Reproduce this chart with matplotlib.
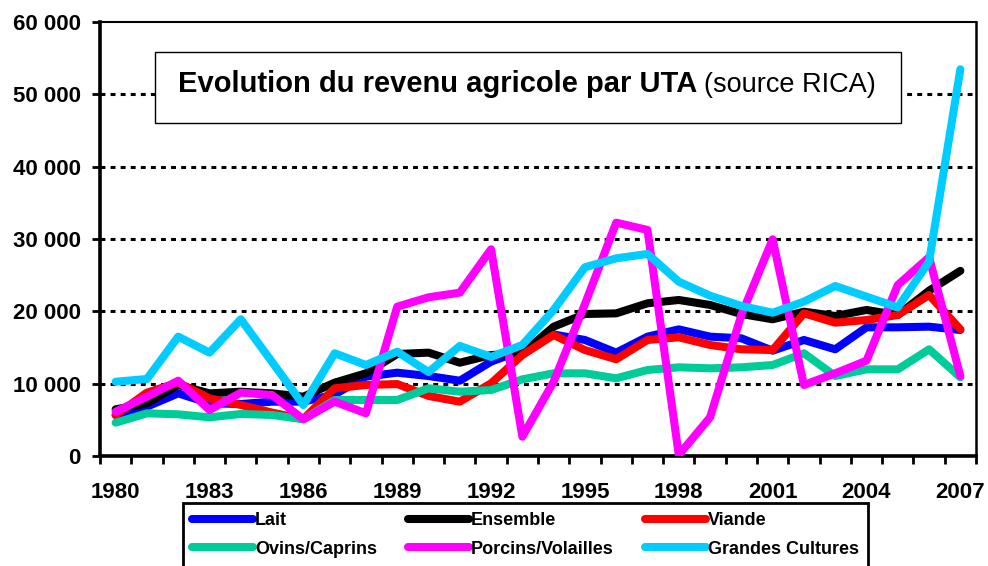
import matplotlib
matplotlib.use('Agg')
import matplotlib.pyplot as plt
from matplotlib.patches import Rectangle
import numpy as np

plt.rcParams['font.family'] = ['Liberation Sans', 'DejaVu Sans']

# donnees (revenu par UTA)
years = list(range(1980, 2008))
lait = [5670, 6820, 8660, 7280, 7190, 7510, 7510, 8500, 10970, 11520, 11060, 10410, 13040, 14650,
        16800, 16040, 14290, 16500, 17510, 16500, 16270, 14560, 16040, 14750, 17790, 17790, 17880, 17420]
ensemble = [6450, 7280, 9820, 8660, 8890, 8660, 8200, 10140, 11430, 14100, 14290, 12900, 13960, 14200,
            17880, 19630, 19720, 21110, 21570, 20880, 19630, 18900, 19950, 19360, 20190, 19490, 22860, 25600]
viande = [5670, 8760, 10140, 7970, 7050, 6000, 5100, 9360, 9820, 9950, 8300, 7510, 10050, 13960,
          16730, 14650, 13370, 16040, 16410, 15350, 14750, 14650, 19720, 18430, 18800, 19490, 22260, 17510]
ovins = [4610, 5900, 5760, 5350, 5810, 5670, 5070, 7740, 7740, 7740, 9360, 8890, 9120, 10600,
         11430, 11430, 10740, 11890, 12260, 12120, 12260, 12580, 14200, 11060, 11980, 11980, 14750, 10880]
porcins = [6130, 8200, 10410, 6360, 8760, 8430, 5070, 7510, 5900, 20640, 21940, 22580, 28580, 2670,
           10270, 21000, 32260, 31250, 140, 5350, 19500, 29960, 9820, 11430, 13180, 23640, 27470, 11060]
grandes = [10270, 10650, 16500, 14290, 18900, 13000, 7050, 14200, 12580, 14420, 11600, 15210, 13700, 15350,
           20190, 26090, 27330, 27930, 24100, 22160, 20740, 19810, 21340, 23500, 22030, 20550, 26870, 53460]

noms = ['Lait', 'Ensemble', 'Viande', 'Ovins/Caprins', 'Porcins/Volailles', 'Grandes Cultures']
series = [lait, ensemble, viande, ovins, porcins, grandes]
couleurs = ['#0000FF', '#000000', '#FF0000', '#00CC99', '#FF00FF', '#00CCFF']

W, H = 988, 566
fig = plt.figure(figsize=(W / 100, H / 100), dpi=100)
ax = fig.add_axes([100 / W, 1 - 456 / H, 876 / W, 434 / H])

x = np.arange(len(years))
lignes = {}
for nom, vals, col in zip(noms, series, couleurs):
    l, = ax.plot(x, vals, color=col, lw=5.8, solid_joinstyle='round', solid_capstyle='round',
                 label=nom, zorder=3)
    lignes[nom] = l

ax.set_xlim(-0.5, len(years) - 0.5)
ax.set_ylim(0, 60000)

yt = list(range(0, 60001, 10000))
ax.set_yticks(yt)
ax.set_yticklabels([f"{v:,}".replace(',', ' ') for v in yt], fontsize=16, fontweight='bold')
ax.set_xticks(x[::3])
ax.set_xticklabels([str(y) for y in years[::3]], fontsize=16, fontweight='bold')
ax.set_xticks(np.arange(-0.5, len(years), 1), minor=True)
ax.tick_params(axis='x', which='major', length=0, pad=19)
ax.tick_params(axis='x', which='minor', length=6, width=2, direction='out')
ax.tick_params(axis='y', length=6, width=2, pad=8, direction='out')

for v in yt[1:-1]:
    ax.axhline(v, color='black', lw=2.2, ls=(0, (1.6, 1.7)), zorder=1)

ax.spines['left'].set_linewidth(2.6)
ax.spines['bottom'].set_linewidth(2.6)
ax.spines['top'].set_linewidth(1.5)
ax.spines['right'].set_linewidth(1.8)

# cadre du titre
fig.patches.append(Rectangle((155 / W, 1 - 123 / H), 746 / W, 71 / H, transform=fig.transFigure,
                             facecolor='white', edgecolor='black', lw=1.0, zorder=5))
t1 = fig.text(178 / W, 1 - 92 / H, "Evolution du revenu agricole par UTA", fontsize=21,
              fontweight='bold', va='baseline', ha='left', zorder=6)
fig.canvas.draw()
bb = t1.get_window_extent()
fig.text((bb.x1 + 7) / W, 1 - 92 / H, "(source RICA)", fontsize=19.5, va='baseline', ha='left', zorder=6)

# legende (remplie par colonnes)
ordre = ['Lait', 'Ovins/Caprins', 'Ensemble', 'Porcins/Volailles', 'Viande', 'Grandes Cultures']
leg = fig.legend([lignes[n] for n in ordre], ordre, ncol=3, loc='upper left',
                 bbox_to_anchor=(183 / W, 1 - 503 / H), borderaxespad=0, frameon=True,
                 fancybox=False, edgecolor='black', framealpha=1,
                 prop={'weight': 'bold', 'size': 13}, handlelength=3.4, handletextpad=0.1,
                 columnspacing=1.7, labelspacing=0.65, borderpad=0.5)
leg.get_frame().set_linewidth(2)

fig.savefig('out.png', dpi=100)
